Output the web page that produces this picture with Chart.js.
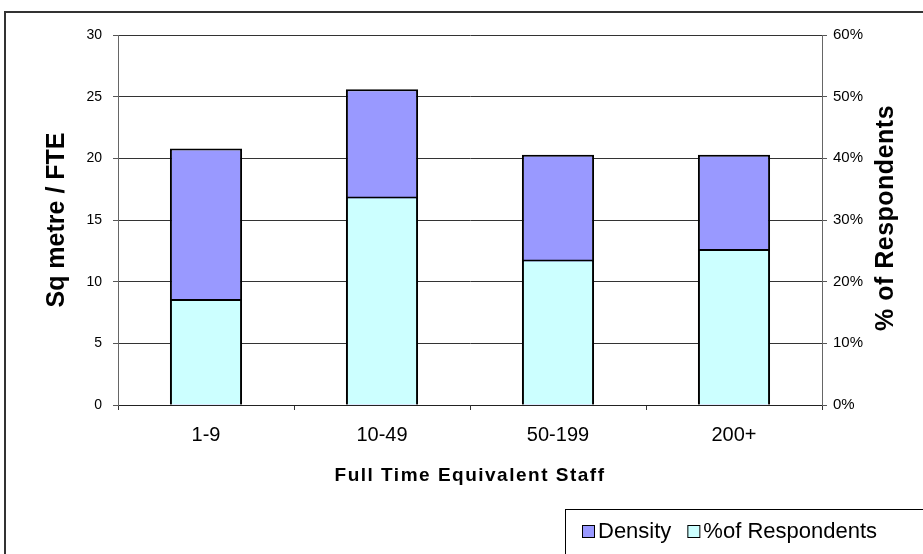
<!DOCTYPE html>
<html>
<head>
<meta charset="utf-8">
<script src="https://cdn.jsdelivr.net/npm/chart.js@4"></script>
<style>
  html, body { margin: 0; padding: 0; background: #fff; }
  #wrap { width: 923px; height: 554px; position: relative; }
</style>
</head>
<body>
<div id="wrap"><canvas id="densityChart" width="923" height="554"></canvas></div>
<script>
// Data
const staffBands = ["1-9", "10-49", "50-199", "200+"];
const densityValues = [20.8, 25.6, 20.3, 20.3];
const respondentPct = [17.2, 33.8, 23.6, 25.3];
const xTitle = "Full Time Equivalent Staff";
const rightTitle = "% of Respondents";

const FONT = '"Liberation Sans", Arial, sans-serif';

// frame, legend box, x title and rotated right title
const extrasPlugin = {
  id: "extras",
  afterDraw(chart) {
    const ctx = chart.ctx;
    const area = chart.chartArea;
    ctx.save();
    // outer frame
    ctx.strokeStyle = "#333";
    ctx.lineWidth = 2;
    ctx.strokeRect(5, 12, 1000, 600);

    ctx.fillStyle = "#000";
    ctx.textAlign = "center";
    ctx.textBaseline = "middle";

    // x axis title (spaced out like the original)
    ctx.font = "bold 19px " + FONT;
    ctx.letterSpacing = "1.5px";
    ctx.fillText(xTitle, (area.left + area.right) / 2, 476);

    // right axis title, reads bottom to top
    ctx.save();
    ctx.translate(886, 218);
    ctx.rotate(-Math.PI / 2);
    ctx.font = "bold 25px " + FONT;
    ctx.letterSpacing = "0.5px";
    ctx.fillText(rightTitle, 0, 0);
    ctx.restore();

    // legend
    ctx.letterSpacing = "0px";
    ctx.lineWidth = 1;
    ctx.strokeStyle = "#000";
    ctx.fillStyle = "#fff";
    ctx.fillRect(565, 509, 400, 60);
    ctx.strokeRect(565.5, 509.5, 400, 60);
    ctx.font = "22px " + FONT;
    ctx.textBaseline = "middle";
    ctx.textAlign = "left";
    let x = 582;
    const y = 531;
    chart.data.datasets.forEach((ds) => {
      ctx.fillStyle = ds.backgroundColor;
      ctx.fillRect(x, y - 6, 12, 12);
      ctx.strokeRect(x + 0.5, y - 5.5, 12, 12);
      x += 16;
      ctx.fillStyle = "#000";
      ctx.fillText(ds.label, x, y + 1);
      x += ctx.measureText(ds.label).width + 16;
    });
    ctx.restore();
  },
};

const chartData = {
  labels: staffBands,
  datasets: [
    {
      label: "Density",
      data: densityValues,
      backgroundColor: "#9999FF",
      borderColor: "#000",
      borderWidth: 2,
      yAxisID: "y",
      order: 1,
    },
    {
      label: "%of Respondents",
      data: respondentPct,
      backgroundColor: "#CCFFFF",
      borderColor: "#000",
      borderWidth: 2,
      yAxisID: "y2",
      order: 0,
    },
  ],
};

const config = {
  type: "bar",
  data: chartData,
  plugins: [extrasPlugin],
  options: {
    responsive: false,
    animation: false,
    layout: { padding: { top: 35, left: 0, right: 0, bottom: 0 } },
    datasets: {
      bar: {
        grouped: false,
        barPercentage: 0.41,
        categoryPercentage: 1,
      },
    },
    plugins: {
      legend: { display: false },
      tooltip: { enabled: false },
    },
    scales: {
      x: {
        afterFit: (s) => { s.height = 149; },
        grid: {
          offset: true,
          drawOnChartArea: false,
          drawTicks: true,
          tickLength: 5,
          tickColor: "#333",
        },
        border: { color: "#222", width: 1 },
        ticks: { color: "#000", font: { family: FONT, size: 20 }, padding: 13 },
      },
      y: {
        position: "left",
        min: 0,
        max: 30,
        afterFit: (s) => { s.width = 118; },
        ticks: { stepSize: 5, color: "#000", font: { family: FONT, size: 14 }, padding: 11 },
        grid: { color: "#333", lineWidth: 1, tickLength: 5, tickColor: "#555" },
        border: { color: "#666", width: 1 },
        title: {
          display: true,
          text: "Sq metre / FTE",
          color: "#000",
          font: { family: FONT, size: 25, weight: "bold" },
          padding: { top: 42, bottom: 0 },
        },
      },
      y2: {
        position: "right",
        min: 0,
        max: 60,
        afterFit: (s) => { s.width = 101; },
        ticks: {
          stepSize: 10,
          color: "#000",
          font: { family: FONT, size: 15 },
          padding: 6,
          callback: (v) => v + "%",
        },
        grid: { drawOnChartArea: false, tickLength: 5, tickColor: "#555" },
        border: { color: "#666", width: 1 },
      },
    },
  },
};

const densityChart = new Chart(document.getElementById("densityChart"), config);
</script>
</body>
</html>
